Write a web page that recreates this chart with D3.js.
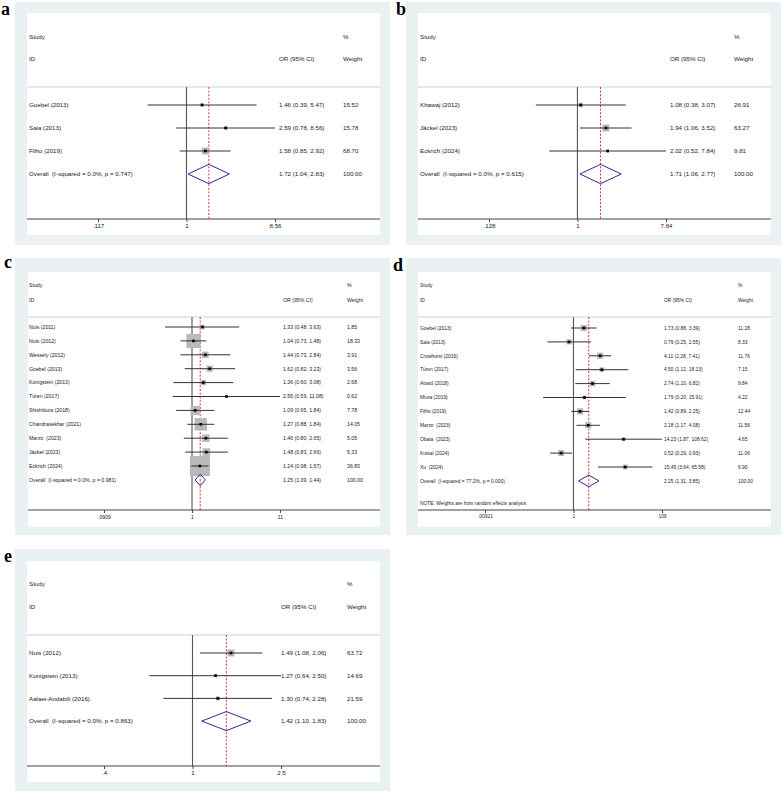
<!DOCTYPE html>
<html>
<head>
<meta charset="utf-8">
<script src="https://cdn.jsdelivr.net/npm/d3@7/dist/d3.min.js"></script>
<style>
  html, body { margin: 0; padding: 0; background: #fff; }
  text { font-family: "Liberation Sans", Arial, sans-serif; fill: #222; white-space: pre; }
  .letter { font-family: "Liberation Serif", "Times New Roman", serif; font-weight: bold; fill: #000; }
</style>
</head>
<body>
<svg width="782" height="793"></svg>
<script>
// ---- data ----
var studiesA = ["Goebel (2013)", "Saia (2013)", "Filho (2019)"];
var orA      = [1.46, 2.59, 1.58];
var lowA     = [0.39, 0.78, 0.85];
var highA    = [5.47, 8.56, 2.92];
var weightA  = [15.52, 15.78, 68.70];

var studiesB = ["Khawaj (2012)", "Jäckel (2023)", "Eckrich (2024)"];
var orB      = [1.08, 1.94, 2.02];
var lowB     = [0.38, 1.06, 0.52];
var highB    = [3.07, 3.52, 7.84];
var weightB  = [26.91, 63.27, 9.81];

var studiesC = ["Nuis (2011)", "Nuis (2012)", "Wessely (2012)", "Goebel (2013)", "Konigstein (2013)", "Türen (2017)",
                "Shishikura (2018)", "Chandrasekhar (2021)", "Marzo  (2023)", "Jäckel (2023)", "Eckrich (2024)"];
var orC      = [1.33, 1.04, 1.44, 1.62, 1.36, 2.56, 1.09, 1.27, 1.46, 1.48, 1.24];
var lowC     = [0.48, 0.73, 0.73, 0.82, 0.60, 0.59, 0.65, 0.88, 0.80, 0.83, 0.98];
var highC    = [3.63, 1.48, 2.84, 3.23, 3.08, 11.08, 1.84, 1.84, 2.65, 2.66, 1.57];
var weightC  = [1.85, 18.33, 3.91, 3.56, 2.68, 0.62, 7.78, 14.05, 5.05, 5.33, 36.83];

var studiesD = ["Goebel (2013)", "Saia (2013)", "Crowhurst (2016)", "Türen (2017)", "Attard (2018)", "Miura (2019)",
                "Filho (2019)", "Marzo  (2023)", "Obata  (2023)", "Kutsal (2024)", "Xu  (2024)"];
var orD      = [1.73, 0.79, 4.11, 4.50, 2.74, 1.79, 1.42, 2.18, 14.23, 0.52, 15.45];
var lowD     = [0.88, 0.25, 2.28, 1.12, 1.10, 0.20, 0.89, 1.17, 1.87, 0.29, 3.64];
var highD    = [3.39, 2.55, 7.41, 18.13, 6.82, 15.91, 2.25, 4.08, 108.62, 0.93, 65.58];
var weightD  = [11.28, 8.33, 11.76, 7.15, 9.84, 4.22, 12.44, 11.56, 4.65, 11.06, 6.90];

var studiesE = ["Nuis (2012)", "Konigstein (2013)", "Aalaei-Andabili (2016)"];
var orE      = [1.49, 1.27, 1.30];
var lowE     = [1.08, 0.64, 0.74];
var highE    = [2.06, 2.50, 2.28];
var weightE  = [63.72, 14.69, 21.59];

var overallLabels = ["Overall  (I-squared = 0.0%, p = 0.747)", "Overall  (I-squared = 0.0%, p = 0.615)",
                     "Overall  (I-squared = 0.0%, p = 0.981)", "Overall  (I-squared = 77.2%, p = 0.000)",
                     "Overall  (I-squared = 0.0%, p = 0.863)"];
var overallOR   = [1.72, 1.71, 1.25, 2.25, 1.42];
var overallLow  = [1.04, 1.06, 1.09, 1.31, 1.10];
var overallHigh = [2.83, 2.77, 1.44, 3.85, 1.83];

var tickLabels = [[".117", "1", "8.56"], [".128", "1", "7.84"], [".0909", "1", "11"], [".00921", "1", "109"], [".4", "1", "2.5"]];
var panelLetters = ["a", "b", "c", "d", "e"];
var notes = ["", "", "", "NOTE: Weights are from random effects analysis", ""];

// ---- layout of each panel (pixels) ----
var layout = [
  {ox: 0,   grey: [15, 2, 375, 243],   white: [27, 13, 353, 222],  letter: [1, 15],
   hStudy: 37, hID: 59, sep: 87, row0: 105, step: 23, axisY: 219, tickY: 229,
   xr: [98, 275], sx: 29, orx: 279, wx: 343, font: 6.2, k: 0.84},
  {ox: 391, grey: [15, 2, 375, 243],   white: [27, 13, 353, 222],  letter: [5, 15],
   hStudy: 37, hID: 59, sep: 87, row0: 105, step: 23, axisY: 219, tickY: 229,
   xr: [98, 275], sx: 29, orx: 279, wx: 343, font: 6.2, k: 0.88},
  {ox: 0,   grey: [15, 258, 375, 277], white: [28, 272, 352, 255], letter: [4, 268],
   hStudy: 285, hID: 300, sep: 317, row0: 327, step: 13.9, axisY: 510, tickY: 520,
   xr: [104, 280], sx: 29, orx: 283, wx: 347, font: 5.2, k: 3.3},
  {ox: 391, grey: [15, 258, 375, 277], white: [27, 272, 353, 255], letter: [2, 271],
   hStudy: 285, hID: 300, sep: 317, row0: 328, step: 13.9, axisY: 510, tickY: 520,
   xr: [94, 271], sx: 29, orx: 273, wx: 347, font: 4.9, k: 1.8, noteY: 503},
  {ox: 0,   grey: [15, 549, 375, 242], white: [27, 561, 353, 221], letter: [4, 562],
   hStudy: 584, hID: 607, sep: 635, row0: 653, step: 22.7, axisY: 766, tickY: 776,
   xr: [104, 281], sx: 29, orx: 281, wx: 347, font: 6.2, k: 0.88}
];

var panels = [
  {studies: studiesA, or: orA, low: lowA, high: highA, weight: weightA},
  {studies: studiesB, or: orB, low: lowB, high: highB, weight: weightB},
  {studies: studiesC, or: orC, low: lowC, high: highC, weight: weightC},
  {studies: studiesD, or: orD, low: lowD, high: highD, weight: weightD},
  {studies: studiesE, or: orE, low: lowE, high: highE, weight: weightE}
];

var fmt = d3.format(".2f");
var svg = d3.select("svg");

panels.forEach(function(p, pi) {
  var L = layout[pi];
  var g = svg.append("g").attr("transform", "translate(" + L.ox + ",0)");
  var ticks = tickLabels[pi].map(function(t) { return +t; });
  var x = d3.scaleLog().domain([ticks[0], ticks[2]]).range(L.xr);
  var clampX = function(v) { return x(Math.max(ticks[0], Math.min(ticks[2], v))); };

  // backgrounds
  g.append("rect").attr("x", L.grey[0]).attr("y", L.grey[1]).attr("width", L.grey[2]).attr("height", L.grey[3])
    .attr("fill", "#eaf1f3");
  g.append("rect").attr("x", L.white[0]).attr("y", L.white[1]).attr("width", L.white[2]).attr("height", L.white[3])
    .attr("fill", "#fff");
  g.append("text").attr("class", "letter").attr("x", L.letter[0]).attr("y", L.letter[1])
    .attr("font-size", 18).text(panelLetters[pi]);

  var xl = L.white[0], xr = L.white[0] + L.white[2];

  // headers
  var txt = function(xp, yp, s, anchor) {
    return g.append("text").attr("x", xp).attr("y", yp).attr("dy", "0.35em")
      .attr("font-size", L.font).attr("text-anchor", anchor || "start").text(s);
  };
  txt(L.sx, L.hStudy, "Study");
  txt(L.wx, L.hStudy, "%");
  txt(L.sx, L.hID, "ID");
  txt(L.orx, L.hID, "OR (95% CI)");
  txt(L.wx, L.hID, "Weight");

  g.append("line").attr("x1", xl).attr("x2", xr).attr("y1", L.sep).attr("y2", L.sep)
    .attr("stroke", "#d0d0d0").attr("stroke-width", 1);

  // null line and overall line
  g.append("line").attr("x1", x(1)).attr("x2", x(1)).attr("y1", L.sep).attr("y2", L.axisY)
    .attr("stroke", "#555").attr("stroke-width", 1.1);
  g.append("line").attr("x1", x(overallOR[pi])).attr("x2", x(overallOR[pi]))
    .attr("y1", L.sep).attr("y2", L.axisY)
    .attr("stroke", "#c0272d").attr("stroke-width", 0.9).attr("stroke-dasharray", "2,1.6");

  // study rows
  var rows = p.studies.map(function(s, i) {
    return {name: s, or: p.or[i], low: p.low[i], high: p.high[i], w: p.weight[i], y: L.row0 + i * L.step};
  });

  g.selectAll("rect.box").data(rows).enter().append("rect").attr("class", "box")
    .attr("x", function(d) { return x(d.or) - L.k * Math.sqrt(d.w) / 2; })
    .attr("y", function(d) { return d.y - L.k * Math.sqrt(d.w) / 2; })
    .attr("width", function(d) { return L.k * Math.sqrt(d.w); })
    .attr("height", function(d) { return L.k * Math.sqrt(d.w); })
    .attr("fill", "#b9b9b9");

  g.selectAll("line.ci").data(rows).enter().append("line").attr("class", "ci")
    .attr("x1", function(d) { return clampX(d.low); })
    .attr("x2", function(d) { return clampX(d.high); })
    .attr("y1", function(d) { return d.y; })
    .attr("y2", function(d) { return d.y; })
    .attr("stroke", "#333").attr("stroke-width", 1);

  g.selectAll("rect.pt").data(rows).enter().append("rect").attr("class", "pt")
    .attr("x", function(d) { return x(d.or) - 1.3; })
    .attr("y", function(d) { return d.y - 1.3; })
    .attr("width", 2.6).attr("height", 2.6)
    .attr("fill", "#000");

  rows.forEach(function(d) {
    txt(L.sx, d.y, d.name);
    txt(L.orx, d.y, fmt(d.or) + " (" + fmt(d.low) + ", " + fmt(d.high) + ")");
    txt(L.wx, d.y, fmt(d.w));
  });

  // overall diamond
  var oy = L.row0 + rows.length * L.step;
  var dh = L.step * 0.42;
  var dpts = [[x(overallLow[pi]), oy], [x(overallOR[pi]), oy - dh], [x(overallHigh[pi]), oy], [x(overallOR[pi]), oy + dh]];
  g.append("path").attr("d", d3.line()(dpts) + "Z")
    .attr("fill", "none").attr("stroke", "#2b2b8c").attr("stroke-width", 1);
  txt(L.sx, oy, overallLabels[pi]);
  txt(L.orx, oy, fmt(overallOR[pi]) + " (" + fmt(overallLow[pi]) + ", " + fmt(overallHigh[pi]) + ")");
  txt(L.wx, oy, "100.00");

  if (notes[pi]) txt(L.sx, L.noteY, notes[pi]);

  // x axis
  g.append("line").attr("x1", xl).attr("x2", xr).attr("y1", L.axisY).attr("y2", L.axisY)
    .attr("stroke", "#444").attr("stroke-width", 1);
  var axis = d3.axisBottom(x).tickValues(ticks).tickSize(3).tickPadding(2)
    .tickFormat(function(v, i) { return tickLabels[pi][i]; });
  var ag = g.append("g").attr("transform", "translate(0," + L.axisY + ")").call(axis);
  ag.select(".domain").remove();
  ag.selectAll(".tick line").attr("stroke", "#444");
  ag.selectAll(".tick text").attr("font-size", L.font).attr("fill", "#222")
    .attr("font-family", "Liberation Sans, Arial, sans-serif");
});
</script>
</body>
</html>
